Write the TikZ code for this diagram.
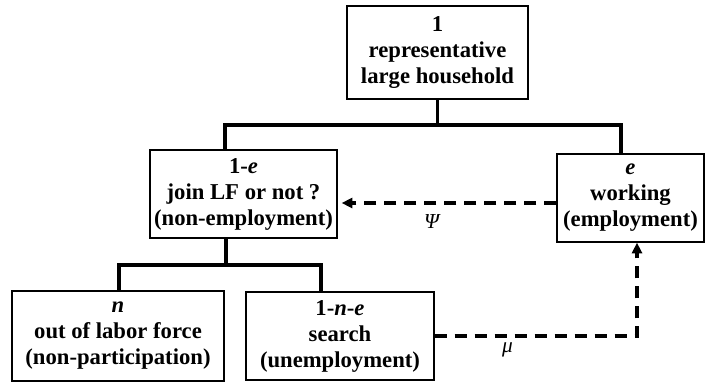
\documentclass[tikz,border=0pt]{standalone}
\usepackage{fontspec}
\setmainfont{Liberation Serif}
\usetikzlibrary{arrows.meta}
\newlength{\px}\setlength{\px}{0.75pt}
\newcommand{\share}[1]{\textit{#1}}
\tikzstyle{box} = [draw,line width=1pt,inner sep=0pt,align=center,
  font=\bfseries\fontsize{17}{19.5}\selectfont]
\tikzstyle{tree} = [line width=2.3pt]
\tikzstyle{flow} = [line width=2.3pt,dash pattern=on 9pt off 6pt,
  -{Triangle[length=8pt,width=7.5pt]}]
\tikzstyle{rate} = [font=\fontsize{16}{18}\selectfont\itshape]

\begin{document}
\begin{tikzpicture}[x=\px,y=-\px]
    \useasboundingbox (0,0) rectangle (706,383);

    \node[box,minimum width=181\px,minimum height=93\px] (hh)    at (437.5,52.5) {1\\representative\\large household};
    \node[box,minimum width=187\px,minimum height=88\px] (mid)   at (243.5,194)  {1-\share{e}\\join LF or not ?\\(non-employment)};
    \node[box,minimum width=147\px,minimum height=88\px] (emp)   at (630.5,198)  {\share{e}\\working\\(employment)};
    \node[box,minimum width=212\px,minimum height=90\px] (olf)   at (118,336)    {\share{n}\\out of labor force\\(non-participation)};
    \node[box,minimum width=188\px,minimum height=88\px] (srch)  at (340,336)    {1-\share{n}-\share{e}\\search\\(unemployment)};

    % household splits
    \coordinate (bar) at (437.5,125);
    \draw[tree] (hh.south) -- (bar);
    \draw[tree] ([xshift=-18.5\px]mid.north) |- (bar) -| ([xshift=-9.5\px]emp.north);

    % non-employment splits
    \coordinate (fork) at (226,265);
    \draw[tree] ([xshift=-17.5\px]mid.south) -- (fork);
    \draw[tree] ([xshift=1\px]olf.north) |- (fork) -| ([xshift=-19\px]srch.north);

    % flows
    \draw[flow,shorten >=4\px] ([yshift=-5\px]emp.west) coordinate (sep) -- node[rate,pos=0.57,yshift=-19\px] {Ψ} (sep -| mid.east);
    \draw[flow] (srch.east) -| node[rate,pos=0.18,yshift=-14\px] {μ} ([xshift=6.5\px]emp.south);
\end{tikzpicture}
\end{document}
